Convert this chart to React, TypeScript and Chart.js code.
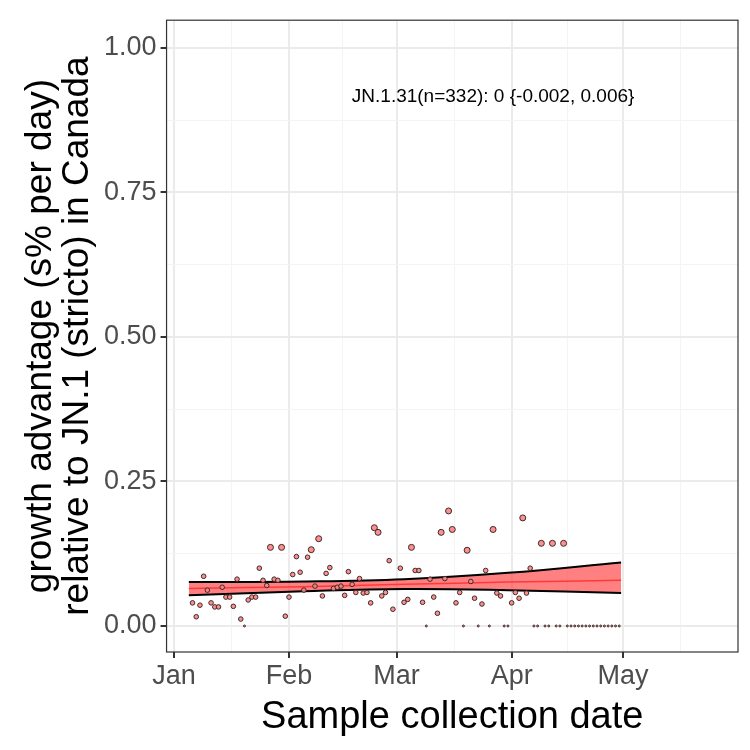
import React, { useEffect, useRef } from 'react';
import { Chart, registerables } from 'chart.js';

Chart.register(...registerables);

// day offsets from Jan 1 2024
const pointDays = [5, 6, 7, 8, 9, 10, 11, 12, 13, 14, 15, 16, 17, 18, 19, 20, 21, 22, 23, 24, 25, 26, 27, 28, 29, 30,
  31, 32, 33, 34, 35, 36, 37, 38, 39, 40, 41, 42, 43, 44, 45, 46, 47, 48, 49, 50, 51, 52, 53, 54, 55, 56, 57, 58, 59,
  61, 62, 63, 64, 65, 66, 67, 68, 69, 70, 71, 72, 73, 74, 75, 76, 77, 78, 79, 80, 81, 82, 83, 84, 85, 86, 87, 88, 89,
  90, 91, 92, 93, 94, 95, 96, 97, 98, 99, 100, 101, 102, 103, 104, 105, 106, 107, 108, 109, 110, 111, 112, 113, 114,
  115, 116, 117, 118, 119, 120];
const pointValues = [0.04, 0.016, 0.036, 0.086, 0.062, 0.04, 0.033, 0.033, 0.067, 0.05, 0.05, 0.034, 0.081, 0.012, 0,
  0.045, 0.05, 0.05, 0.1, 0.079, 0.07, 0.136, 0.081, 0.079, 0.136, 0.017, 0.05, 0.089, 0.12, 0.093, 0.062, 0.119,
  0.132, 0.069, 0.151, 0.052, 0.091, 0.101, 0.065, 0.067, 0.069, 0.053, 0.094, 0.072, 0.058, 0.082, 0.057, 0.058,
  0.04, 0.17, 0.162, 0.052, 0.058, 0.113, 0.029, 0.1, 0.041, 0.046, 0.136, 0.096, 0.096, 0.041, 0, 0.081, 0.05, 0.022,
  0.162, 0.082, 0.199, 0.167, 0.04, 0.058, 0, 0.131, 0.077, 0.048, 0, 0.038, 0.096, 0, 0.167, 0.057, 0.052, 0, 0,
  0.04, 0.058, 0.048, 0.187, 0.057, 0.1, 0, 0, 0.143, 0, 0, 0.143, 0, 0, 0.143, 0, 0, 0, 0, 0, 0, 0, 0, 0, 0, 0, 0,
  0, 0, 0];

const fitDays = [4, 35, 62, 90, 120.5];
const fitMid = [0.065, 0.068, 0.072, 0.076, 0.079];
const fitUpper = [0.076, 0.077, 0.081, 0.092, 0.11];
const fitLower = [0.053, 0.06, 0.064, 0.062, 0.057];

const monthTicks = [0, 31, 60, 91, 121];
const monthLabels = ['Jan', 'Feb', 'Mar', 'Apr', 'May'];
const xMinorTicks = [15.5, 45.5, 75.5, 106, 136.5];
const yTicks = [0, 0.25, 0.5, 0.75, 1];
const yMinorTicks = [0.125, 0.375, 0.625, 0.875];

const annotation = 'JN.1.31(n=332): 0 {-0.002, 0.006}';

const FONT = "'Liberation Sans', Arial, sans-serif";

const panelPlugin = {
  id: 'panel',
  afterDraw(chart: Chart) {
    const { ctx, chartArea: a } = chart;
    ctx.save();
    ctx.strokeStyle = '#333333';
    ctx.lineWidth = 1.2;
    ctx.strokeRect(a.left, a.top, a.right - a.left, a.bottom - a.top);
    ctx.fillStyle = '#000';
    ctx.font = `19px ${FONT}`;
    ctx.textAlign = 'center';
    ctx.textBaseline = 'middle';
    const x = chart.scales.x.getPixelForValue(86);
    const y = chart.scales.y.getPixelForValue(0.915);
    ctx.fillText(annotation, x, y);
    ctx.restore();
  },
};

const App = () => {
  const canvasRef = useRef<HTMLCanvasElement>(null);
  const chartRef = useRef<Chart | null>(null);

  useEffect(() => {
    if (!canvasRef.current) return;
    const toXY = (xs: number[], ys: number[]) => xs.map((x, i) => ({ x, y: ys[i] }));
    const allX = [...monthTicks, ...xMinorTicks].sort((a, b) => a - b);
    const allY = [...yTicks, ...yMinorTicks].sort((a, b) => a - b);

    chartRef.current = new Chart(canvasRef.current, {
      type: 'scatter',
      data: {
        datasets: [
          {
            type: 'line',
            data: toXY(fitDays, fitLower),
            borderColor: '#000',
            borderWidth: 2,
            pointRadius: 0,
            tension: 0.4,
            fill: false,
            order: 2,
          },
          {
            type: 'line',
            data: toXY(fitDays, fitUpper),
            borderColor: '#000',
            borderWidth: 2,
            pointRadius: 0,
            tension: 0.4,
            fill: { target: '-1', above: 'rgba(255,60,60,0.65)', below: 'rgba(255,60,60,0.65)' },
            order: 2,
          },
          {
            type: 'line',
            data: toXY(fitDays, fitMid),
            borderColor: 'rgba(255,40,40,0.8)',
            borderWidth: 1.5,
            pointRadius: 0,
            tension: 0.4,
            fill: false,
            order: 1,
          },
          {
            data: toXY(pointDays, pointValues),
            backgroundColor: 'rgba(255,130,130,0.9)',
            borderColor: '#3a2a2a',
            borderWidth: 1,
            pointRadius: pointValues.map((v) => (v === 0 ? 1 : v > 0.12 ? 3 : 2.3)),
            order: 0,
          },
        ],
      },
      options: {
        animation: false,
        responsive: false,
        layout: { padding: { top: 6, right: 12, left: 22, bottom: 4 } },
        plugins: { legend: { display: false }, tooltip: { enabled: false } },
        scales: {
          x: {
            type: 'linear',
            min: -2,
            max: 152,
            afterBuildTicks: (s) => {
              s.ticks = allX.map((value) => ({ value }));
            },
            ticks: {
              autoSkip: false,
              maxRotation: 0,
              color: '#4d4d4d',
              font: { size: 27, family: FONT },
              padding: 2,
              callback: (v) => {
                const i = monthTicks.indexOf(Number(v));
                return i >= 0 ? monthLabels[i] : '';
              },
            },
            grid: {
              color: (c) => (monthTicks.includes(c.tick?.value) ? '#ebebeb' : '#f4f4f4'),
              lineWidth: (c) => (monthTicks.includes(c.tick?.value) ? 2 : 1),
              tickColor: (c) => (monthTicks.includes(c.tick?.value) ? '#333' : 'rgba(0,0,0,0)'),
              tickLength: 6,
            },
            border: { display: false },
            title: {
              display: true,
              text: 'Sample collection date',
              color: '#000',
              font: { size: 38, family: FONT },
              padding: { top: 0, bottom: 6 },
            },
          },
          y: {
            min: -0.045,
            max: 1.048,
            afterBuildTicks: (s) => {
              s.ticks = allY.map((value) => ({ value }));
            },
            ticks: {
              autoSkip: false,
              color: '#4d4d4d',
              font: { size: 27, family: FONT },
              padding: 4,
              callback: (v) => (yTicks.includes(Number(v)) ? Number(v).toFixed(2) : ''),
            },
            grid: {
              color: (c) => (yTicks.includes(c.tick?.value) ? '#ebebeb' : '#f4f4f4'),
              lineWidth: (c) => (yTicks.includes(c.tick?.value) ? 2 : 1),
              tickColor: (c) => (yTicks.includes(c.tick?.value) ? '#333' : 'rgba(0,0,0,0)'),
              tickLength: 6,
            },
            border: { display: false },
            title: {
              display: true,
              text: ['growth advantage (s% per day)', 'relative to JN.1 (stricto) in Canada'],
              color: '#000',
              font: { size: 37, family: FONT, lineHeight: 1.0 },
              padding: { top: 0, bottom: 4 },
            },
          },
        },
      },
      plugins: [panelPlugin],
    });
    return () => {
      chartRef.current?.destroy();
    };
  }, []);

  return (
    <div style={{ position: 'absolute', left: 0, top: 0, width: 750, height: 750, background: '#fff' }}>
      <canvas ref={canvasRef} width={750} height={750} style={{ width: 750, height: 750 }}></canvas>
    </div>
  );
};

export default App;
